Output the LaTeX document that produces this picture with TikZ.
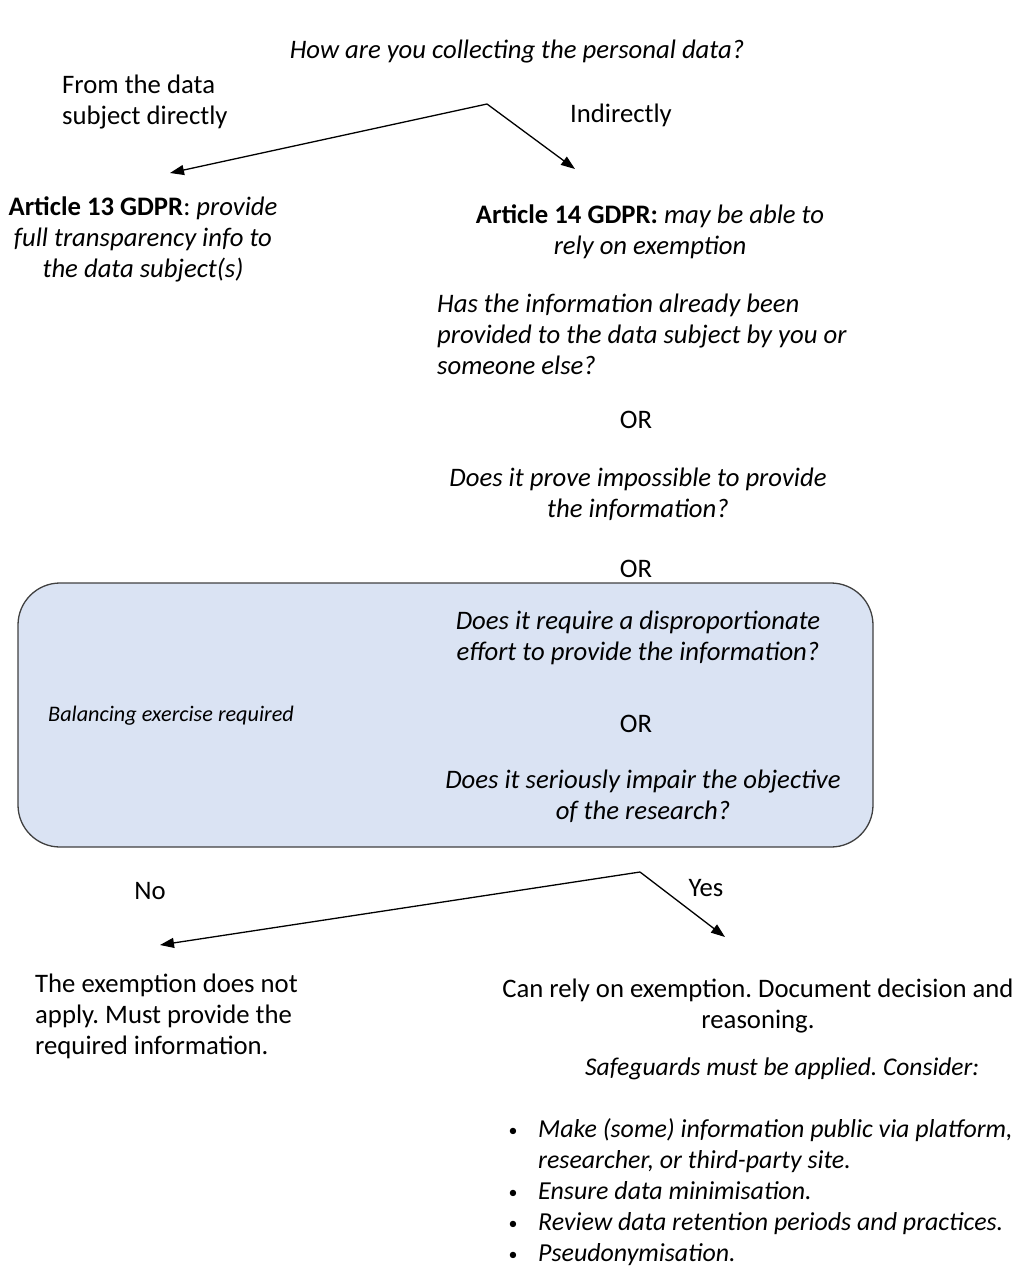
\documentclass[tikz,border=0pt]{standalone}
\usepackage{fontspec}
\setmainfont{Carlito}
\usetikzlibrary{arrows.meta}
\definecolor{boxfill}{RGB}{218,227,243}
\definecolor{boxline}{RGB}{64,64,64}
\frenchspacing
\begin{document}
\begin{tikzpicture}[x=1bp,y=-1bp,
  txt/.style={font=\fontsize{26.8}{31}\selectfont, inner sep=0pt, align=center, anchor=base},
  txtl/.style={txt, align=left, anchor=base west},
  bl/.style={txtl, font=\fontsize{26}{31}\selectfont\itshape},
  small/.style={font=\fontsize{22.3}{26}\selectfont\itshape, inner sep=0pt, anchor=base west},
  dot/.style={font=\fontsize{18}{20}\selectfont, inner sep=0pt, anchor=base},
  conn/.style={line width=1.3bp, -{Triangle[length=14bp,width=10bp]}},
  panel/.style={draw=boxline, line width=1.3bp, fill=boxfill, rounded corners=42bp}]
\useasboundingbox (0,0) rectangle (1034,1268);
% balancing panel
\draw[panel] (18,583) rectangle (873,847);
\node[txt] (title) at (517,58) {\itshape How are you collecting the personal data?};
\node[txtl] (direct) at (62,124) {From the data\\subject directly};
\node[txtl] (indirect) at (570,122) {Indirectly};
\node[txt] (art13) at (143,277) {\textbf{Article 13 GDPR}: \itshape provide\\\itshape full transparency info to\\\itshape the data subject(s)};
\node[txt] (art14) at (650,254) {\textbf{Article 14 GDPR:} \itshape may be able to\\\itshape rely on exemption};
\node[txtl] (q1) at (437,374) {\itshape Has the information already been\\\itshape provided to the data subject by you or\\\itshape someone else?};
\node[txt] (or1) at (636,428) {OR};
\node[txt] (q2) at (638,517) {\itshape Does it prove impossible to provide\\\itshape the information?};
\node[txt] (or2) at (636,577) {OR};
\node[txt] (q3) at (638,660) {\itshape Does it require a disproportionate\\\itshape effort to provide the information?};
\node[small] (bal) at (48,721) {Balancing exercise required};
\node[txt] (or3) at (636,732) {OR};
\node[txt] (q4) at (643,819) {\itshape Does it seriously impair the objective\\\itshape of the research?};
\node[txt] (no) at (150,899) {No};
\node[txt] (yes) at (706,896) {Yes};
\node[txtl] (notapply) at (35,1054) {The exemption does not\\apply. Must provide the\\required information.};
\node[txt] (rely) at (758,1028) {Can rely on exemption. Document decision and\\reasoning.};
\node[bl, font=\fontsize{25.6}{31}\selectfont\itshape] (safe) at (585,1075) {Safeguards must be applied. Consider:};
\node[bl] (b1) at (538,1168) {Make (some) information public via platform,\\researcher, or third-party site.};
\node[bl] (b2) at (538,1199) {Ensure data minimisation.};
\node[bl] (b3) at (538,1230) {Review data retention periods and practices.};
\node[bl] (b4) at (538,1261) {Pseudonymisation.};
\foreach \y/\n in {1136/d1,1198/d2,1229/d3,1260/d4}
  \node[dot] (\n) at (513,\y) {•};
% connectors
\coordinate (s1) at (487,104);
\coordinate (e1l) at (170,173);
\coordinate (e1r) at (575,169);
\draw[conn] (s1) -- (e1l);
\draw[conn] (s1) -- (e1r);
\coordinate (s2) at (640,872);
\coordinate (e2l) at (160,945);
\coordinate (e2r) at (725,937);
\draw[conn] (s2) -- (e2l);
\draw[conn] (s2) -- (e2r);
\end{tikzpicture}
\end{document}
